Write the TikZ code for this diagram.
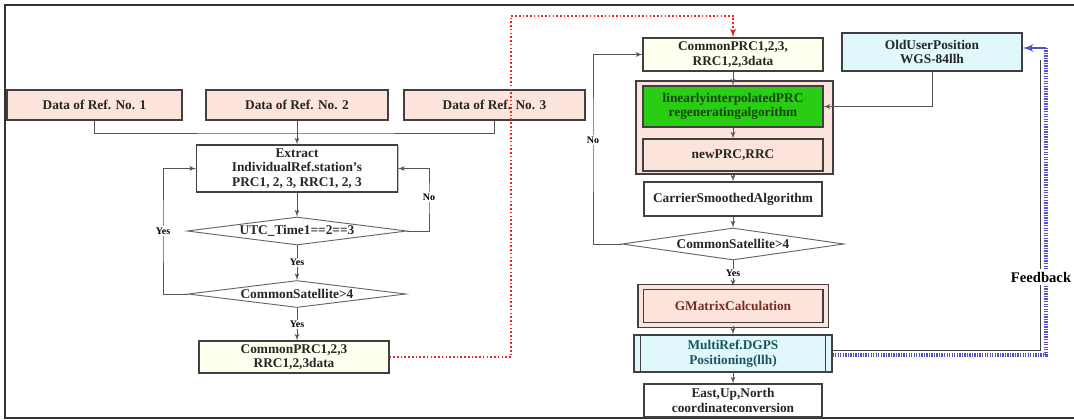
\documentclass[tikz,border=0pt]{standalone}
\usepackage{fontspec}
\setmainfont{Liberation Serif}
\usetikzlibrary{arrows,shapes.geometric,shadows}
\definecolor{refpink}{RGB}{252,228,220}
\definecolor{cream}{RGB}{255,255,240}
\definecolor{skyfill}{RGB}{224,248,252}
\definecolor{algogreen}{RGB}{40,205,20}
\definecolor{algotext}{RGB}{25,70,15}
\definecolor{gmtext}{RGB}{120,45,35}
\definecolor{mreftext}{RGB}{25,85,95}
\definecolor{fbblue}{RGB}{80,80,200}
\definecolor{linegray}{RGB}{85,85,85}
\definecolor{dotred}{RGB}{230,40,40}

\begin{document}
\begin{tikzpicture}[x=0.75pt,y=-0.75pt,>=latex',
    font=\bfseries\fontsize{10}{11}\selectfont,
    sz/.style 2 args={minimum width=#1*0.75pt,minimum height=#2*0.75pt},
    procbox/.style={draw=black!75,line width=.8pt,align=center,inner sep=1pt,text=black!85,
      drop shadow={shadow xshift=1pt,shadow yshift=-1pt,opacity=.5}},
    decision/.style={draw=black!60,line width=.7pt,diamond,aspect=8,inner sep=0pt,fill=white,text=black!85},
    flow/.style={->,draw=linegray,line width=.7pt},
    lbl/.style={fill=white,inner sep=1pt,font=\bfseries\fontsize{7.5}{8}\selectfont}]

    \useasboundingbox (0,0) rectangle (1074,419);
    \clip (0,0) rectangle (1074,419);
    \draw[black!80,line width=.8pt] (5,5) rectangle (1100,418);

    % left column
    \node[procbox,fill=refpink,sz={175}{30}] (ref1) at (94.5,105) {Data of Ref. No. 1};
    \node[procbox,fill=refpink,sz={182}{30}] (ref2) at (297,105) {Data of Ref. No. 2};
    \node[procbox,fill=refpink,sz={181}{30}] (ref3) at (494.5,105) {Data of Ref. No. 3};
    \node[procbox,fill=white,sz={201}{47}] (extr) at (297,168.5) {Extract\\IndividualRef.station's\\PRC1, 2, 3, RRC1, 2, 3};
    \node[decision,sz={220}{28}] (utc) at (297,231) {UTC\_Time1==2==3};
    \node[decision,sz={218}{27}] (sat1) at (297,294) {CommonSatellite>4};
    \node[procbox,fill=cream,sz={190}{32}] (cmn) at (294,357) {CommonPRC1,2,3\\RRC1,2,3data};

    \coordinate (bus) at (297,133);
    \draw[linegray,line width=.7pt] (ref1.south) |- (bus) -| (ref3.south);
    \draw[flow] (ref2.south) -- (extr.north);
    \draw[flow] (extr) -- (utc);
    \draw[flow] (utc) -- node[lbl] {Yes} (sat1);
    \draw[flow] (sat1) -- node[lbl] {Yes} (sat1.south |- cmn.north);

    \coordinate (lloop) at (163,231);
    \draw[flow] (sat1.west) -| (lloop) |- (extr.west);
    \node[lbl] at (lloop) {Yes};
    \coordinate (rloop) at (429,197);
    \draw[flow] (utc.east) -| (rloop) |- (extr.east);
    \node[lbl] at (rloop) {No};

    % right column
    \node[procbox,fill=refpink,sz={197}{93}] (grp) at (734.5,127.5) {};
    \node[procbox,fill=cream,sz={180}{33}] (cprc) at (733,54.5) {CommonPRC1,2,3,\\RRC1,2,3data};
    \node[procbox,fill=skyfill,sz={180}{38}] (oldpos) at (932,52) {OldUserPosition\\WGS-84llh};
    \node[procbox,fill=algogreen,text=algotext,sz={180}{41}] (interp) at (733,106.5) {linearlyinterpolatedPRC\\regeneratingalgorithm};
    \node[procbox,fill=refpink,sz={180}{32}] (newprc) at (733,155) {newPRC,RRC};
    \node[procbox,fill=white,sz={178}{34}] (carrier) at (733,199) {CarrierSmoothedAlgorithm};
    \node[decision,sz={222}{32}] (sat2) at (733,244) {CommonSatellite>4};
    \node[procbox,fill=refpink,double=refpink,double distance=3pt,text=gmtext,sz={185}{38}] (gmat) at (733,306) {GMatrixCalculation};
    \node[procbox,fill=skyfill,text=mreftext,sz={198}{37}] (mref) at (733,353.5) {MultiRef.DGPS\\Positioning(llh)};
    \draw[black!75,line width=.8pt] ([xshift=5pt]mref.north west) -- ([xshift=5pt]mref.south west)
        ([xshift=-5pt]mref.north east) -- ([xshift=-5pt]mref.south east);
    \node[procbox,fill=white,sz={178}{33}] (enu) at (733,400.5) {East,Up,North\\coordinateconversion};

    \draw[flow] (cprc) -- (interp);
    \draw[flow] (interp) -- (newprc);
    \draw[flow] (grp.south -| carrier) -- (carrier.north);
    \draw[flow] (carrier) -- (sat2);
    \draw[flow] (sat2) -- node[lbl] {Yes} (gmat);
    \draw[flow] (gmat) -- (mref);
    \draw[flow] (mref) -- (enu);
    \draw[flow] (oldpos.south) |- (interp.east);

    \coordinate (nloop) at (593,140);
    \draw[flow] (sat2.west) -| (nloop) |- (cprc.west);
    \node[lbl] at (nloop) {No};

    % red dotted link between the columns
    \coordinate (redturn) at (511,16);
    \draw[->,dotred,line width=1.2pt,dash pattern=on 1.2pt off 1.6pt] (cmn.east) -| (redturn) -| (cprc.north);

    % feedback
    \coordinate (fbinner) at (1040,60);
    \coordinate (fbtop) at (1046,48);
    \draw[black!75,line width=.6pt] ([yshift=2pt]mref.east) -| (fbinner);
    \draw[fbblue,line width=3pt,dash pattern=on 1pt off .9pt] ([yshift=-1pt]mref.east) -| (fbtop);
    \draw[->,fbblue,line width=1.8pt] (fbtop) -- ([yshift=3pt]oldpos.east);
    \node[fill=white,inner sep=2pt,font=\bfseries\fontsize{11}{12}\selectfont] (fblabel) at (1041,277) {Feedback};
\end{tikzpicture}
\end{document}
